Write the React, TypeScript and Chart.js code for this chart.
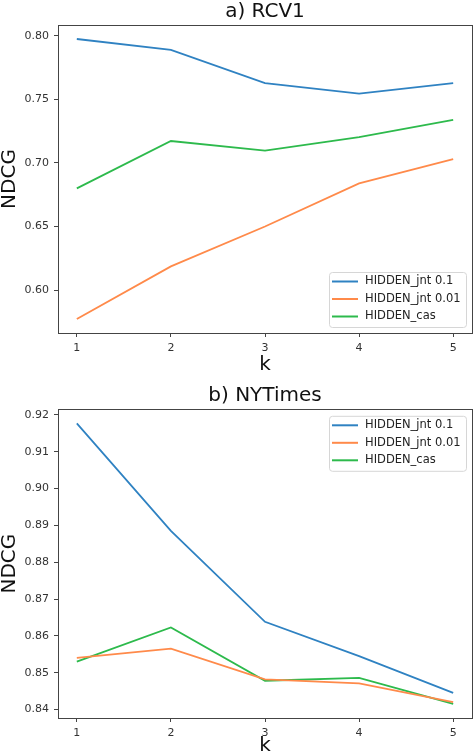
import { useEffect, useRef } from "react"
import { Chart, registerables } from "chart.js"

Chart.register(...registerables)
Chart.defaults.font.family = "'DejaVu Sans', sans-serif"

const kValues = [1, 2, 3, 4, 5]
const seriesNames = ["HIDDEN_jnt 0.1", "HIDDEN_jnt 0.01", "HIDDEN_cas"]
const seriesColors = ["#2f82c2", "#ff8a4a", "#2dba4c"]

// a) RCV1
const rcv1Jnt01 = [0.7976, 0.789, 0.7628, 0.7546, 0.7628]
const rcv1Jnt001 = [0.5772, 0.6186, 0.65, 0.684, 0.7031]
const rcv1Cas = [0.68, 0.7173, 0.7097, 0.7204, 0.734]
const rcv1Ticks = [0.6, 0.65, 0.7, 0.75, 0.8]

// b) NYTimes
const nytJnt01 = [0.9177, 0.8885, 0.8638, 0.8545, 0.8445]
const nytJnt001 = [0.854, 0.8565, 0.8482, 0.8471, 0.842]
const nytCas = [0.853, 0.8623, 0.8478, 0.8486, 0.8415]
const nytTicks = [0.84, 0.85, 0.86, 0.87, 0.88, 0.89, 0.9, 0.91, 0.92]

// spines on all four sides, like matplotlib
const frame = {
  id: "frame",
  afterDatasetsDraw(chart: any) {
    const { ctx, chartArea: a } = chart
    ctx.save()
    ctx.strokeStyle = "#444"
    ctx.lineWidth = 1
    ctx.strokeRect(Math.round(a.left) + 0.5, Math.round(a.top) + 0.5, Math.round(a.right - a.left), Math.round(a.bottom - a.top))
    ctx.restore()
  },
}

// legend box inside the axes
const boxLegend = {
  id: "boxLegend",
  afterDraw(chart: any, _args: any, opts: any) {
    const { ctx, chartArea: a } = chart
    const w = 137, h = 55, rowH = 17.5
    const x = a.right - 6 - w
    const y = opts.loc === "upper" ? a.top + 6.5 : a.bottom - 6 - h
    ctx.save()
    ctx.beginPath()
    ctx.roundRect(x + 0.5, y + 0.5, w, h, 3)
    ctx.fillStyle = "rgba(255,255,255,0.8)"
    ctx.fill()
    ctx.strokeStyle = "#d6d6d6"
    ctx.lineWidth = 1
    ctx.stroke()
    ctx.font = "11.5px 'DejaVu Sans'"
    ctx.textBaseline = "middle"
    ctx.textAlign = "left"
    chart.data.datasets.forEach((ds: any, i: number) => {
      const cy = y + 9.5 + i * rowH
      ctx.beginPath()
      ctx.moveTo(x + 3, cy)
      ctx.lineTo(x + 29, cy)
      ctx.strokeStyle = ds.borderColor
      ctx.lineWidth = 2
      ctx.stroke()
      ctx.fillStyle = "#222"
      ctx.fillText(ds.label, x + 36, cy)
    })
    ctx.restore()
  },
}

function padRange(vals: number[]) {
  const lo = Math.min(...vals), hi = Math.max(...vals)
  const m = (hi - lo) * 0.05
  return [lo - m, hi + m]
}

function makeConfig(title: string, series: number[][], yTicks: number[], loc: string, titlePad: any, xAxisH: number, kPad: number): any {
  const [yMin, yMax] = padRange(series.flat())
  return {
    type: "line",
    data: {
      datasets: series.map((vals, i) => ({
        label: seriesNames[i],
        data: kValues.map((k, j) => ({ x: k, y: vals[j] })),
        borderColor: seriesColors[i],
        borderWidth: 1.8,
        pointRadius: 0,
        fill: false,
        tension: 0,
      })),
    },
    options: {
      responsive: false,
      animation: false,
      layout: { padding: { left: 0, right: 2, top: 0, bottom: 0 } },
      plugins: {
        legend: { display: false },
        tooltip: { enabled: false },
        title: {
          display: true,
          text: title,
          fullSize: false,
          color: "#111",
          font: { size: 20, weight: "normal", lineHeight: 1.2 },
          padding: titlePad,
        },
        boxLegend: { loc },
      },
      scales: {
        x: {
          type: "linear",
          min: 0.8,
          max: 5.2,
          afterBuildTicks: (s: any) => { s.ticks = kValues.map((v) => ({ value: v })) },
          afterFit: (s: any) => { s.height = xAxisH },
          border: { display: false },
          grid: { drawOnChartArea: false, drawTicks: true, tickLength: 4, color: "#444", tickColor: "#444" },
          ticks: { color: "#333", font: { size: 11 }, padding: 5, maxRotation: 0, callback: (v: any) => String(v) },
          title: { display: true, text: "k", color: "#111", font: { size: 20, lineHeight: 1 }, padding: { top: 0, bottom: kPad } },
        },
        y: {
          min: yMin,
          max: yMax,
          afterBuildTicks: (s: any) => { s.ticks = yTicks.map((v) => ({ value: v })) },
          afterFit: (s: any) => { s.width = 58 },
          border: { display: false },
          grid: { drawOnChartArea: false, drawTicks: true, tickLength: 4, color: "#444", tickColor: "#444" },
          ticks: { color: "#333", font: { size: 11 }, padding: 5, callback: (v: any) => Number(v).toFixed(2) },
          title: { display: true, text: "NDCG", color: "#111", font: { size: 20, lineHeight: 1 }, padding: { top: 0, bottom: 0 } },
        },
      },
    },
    plugins: [frame, boxLegend],
  }
}

export default function App() {
  const topRef = useRef<HTMLCanvasElement>(null)
  const botRef = useRef<HTMLCanvasElement>(null)

  useEffect(() => {
    if (!topRef.current || !botRef.current) return
    const top = new Chart(
      topRef.current,
      makeConfig("a) RCV1", [rcv1Jnt01, rcv1Jnt001, rcv1Cas], rcv1Ticks, "lower", { top: 0, bottom: 1 }, 43, 1)
    )
    const bot = new Chart(
      botRef.current,
      makeConfig("b) NYTimes", [nytJnt01, nytJnt001, nytCas], nytTicks, "upper", { top: 8, bottom: 1.3 }, 38, 0)
    )
    return () => { top.destroy(); bot.destroy() }
  }, [])

  return (
    <div style={{ position: "absolute", left: 0, top: 0, width: 474, height: 756, background: "#fff" }}>
      <canvas ref={topRef} width={474} height={376} style={{ position: "absolute", left: 0, top: 0, width: 474, height: 376 }} />
      <canvas ref={botRef} width={474} height={380} style={{ position: "absolute", left: 0, top: 376, width: 474, height: 380 }} />
    </div>
  )
}
